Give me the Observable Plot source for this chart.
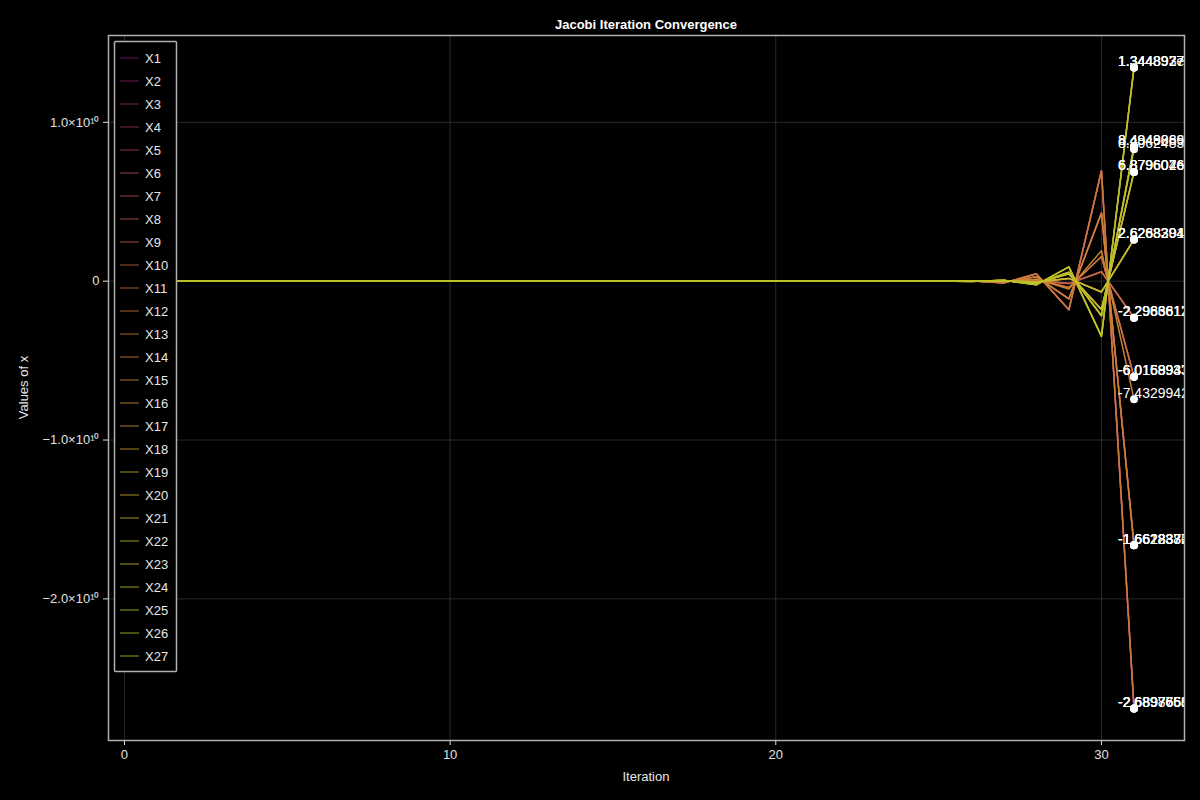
<!DOCTYPE html>
<html>
<head>
<meta charset="utf-8">
<script src="https://cdn.jsdelivr.net/npm/d3@7"></script>
<script src="https://cdn.jsdelivr.net/npm/@observablehq/plot@0.6"></script>
<style>
  html, body { margin: 0; padding: 0; background: #000; }
  #wrap { position: relative; width: 1200px; height: 800px; background: #000; overflow: hidden;
          font-family: "Liberation Sans", Arial, Helvetica, sans-serif; }
  #wrap > svg { position: absolute; left: 0; top: 0; }
  .lbl { position: absolute; color: #e6e6e6; font-size: 13px; white-space: nowrap; }
  #title { position: absolute; top: 17px; left: 108px; width: 1076px; text-align: center;
           color: #fff; font-weight: bold; font-size: 13px; }
</style>
</head>
<body>
<div id="wrap">
  <div id="title">Jacobi Iteration Convergence</div>
  <div class="lbl" id="xlab" style="left:108px;width:1076px;top:769px;text-align:center;">Iteration</div>
  <div class="lbl" id="ylab" style="left:-27px;top:380px;width:100px;text-align:center;transform:rotate(-90deg);">Values of x</div>
</div>
<script>
// ---------- data ----------
const iterations = [0,1,2,3,4,5,6,7,8,9,10,11,12,13,14,15,16,17,18,19,20,21,22,23,24,25,26,27,28,29,30,31];
const seriesNames = ["X1","X2","X3","X4","X5","X6","X7","X8","X9","X10","X11","X12","X13","X14","X15","X16","X17","X18","X19","X20","X21","X22","X23","X24","X25","X26","X27"];

const x1  = [0,0.30,0.45,0.51,0.48,0.62,0.59,0.70,0.67,0.78,0.53,0.93,-0.37,1.20,2.75,-10.6,41.1,-159.2,615.9,-2383,9224,-3.570e4,1.3815e5,-5.346e5,2.069e6,-8.007e6,3.0986e7,-1.1992e8,4.6407e8,-1.7960e9,6.9504e9,-2.6897651e10];
const x2  = [0,0.21,0.36,0.40,0.38,0.49,0.44,0.56,0.52,0.61,0.45,0.70,-0.28,0.96,1.70,-6.57,25.4,-98.4,380.7,-1473,5702,-2.2067e4,8.540e4,-3.305e5,1.2791e6,-4.950e6,1.9156e7,-7.413e7,2.8689e8,-1.1103e9,4.2968e9,-1.6628372e10];
const x3  = [0,0.16,0.23,0.30,0.26,0.36,0.31,0.40,0.35,0.44,0.30,0.51,-0.18,0.36,0.61,-2.38,9.2,-35.6,137.8,-533.2,2063,-7985,3.0903e4,-1.1959e5,4.628e5,-1.7911e6,6.931e6,-2.6825e7,1.0381e8,-4.0175e8,1.5548e9,-6.0169933e9];
const x4  = [0,0.11,0.20,0.21,0.22,0.25,0.25,0.28,0.28,0.30,0.24,0.35,-0.15,0.17,0.23,-0.91,3.5,-13.6,52.6,-203.5,787.5,-3048,1.1794e4,-4.564e4,1.7664e5,-6.836e5,2.6454e6,-1.0238e7,3.962e7,-1.5333e8,5.934e8,-2.2963612e9];
const x5  = [0,0.32,0.43,0.53,0.46,0.64,0.57,0.72,0.65,0.80,0.51,0.95,-0.39,1.22,2.75,-10.6,41.1,-159.2,615.9,-2383,9224,-3.570e4,1.3815e5,-5.346e5,2.069e6,-8.007e6,3.0986e7,-1.1992e8,4.6407e8,-1.7960e9,6.9504e9,-2.6897660e10];
const x6  = [0,0.23,0.34,0.42,0.40,0.47,0.46,0.58,0.50,0.63,0.43,0.72,-0.30,0.94,1.70,-6.56,25.4,-98.3,380.2,-1471,5696,-2.2046e4,8.532e4,-3.302e5,1.2779e6,-4.946e6,1.9138e7,-7.406e7,2.8663e8,-1.1092e9,4.2927e9,-1.6612837e10];
const x7  = [0,0.14,0.25,0.28,0.28,0.34,0.33,0.38,0.37,0.42,0.32,0.49,-0.20,0.34,0.61,-2.38,9.2,-35.6,137.7,-532.7,2061,-7978,3.0874e4,-1.1949e5,4.624e5,-1.7894e6,6.925e6,-2.6800e7,1.0372e8,-4.0168e8,1.5545e9,-6.0158937e9];
const x8  = [0,0.13,0.18,0.23,0.20,0.27,0.23,0.30,0.26,0.32,0.22,0.37,-0.13,0.19,0.24,-0.91,3.5,-13.6,52.6,-203.6,788.3,-3051,1.1806e4,-4.569e4,1.7682e5,-6.843e5,2.6480e6,-1.0248e7,3.966e7,-1.5348e8,5.940e8,-2.2986812e9];
const x9  = [0,0.29,0.46,0.50,0.49,0.61,0.60,0.69,0.68,0.77,0.54,0.92,-0.36,1.19,2.75,-10.6,41.1,-159.2,616.0,-2383,9224,-3.570e4,1.3816e5,-5.347e5,2.069e6,-8.007e6,3.0987e7,-1.1993e8,4.6410e8,-1.7961e9,6.9507e9,-2.6898765e10];
const x10 = [0,0.20,0.37,0.39,0.37,0.50,0.43,0.55,0.53,0.60,0.46,0.69,-0.27,0.97,1.70,-6.57,25.4,-98.4,380.7,-1473,5702,-2.2067e4,8.540e4,-3.305e5,1.2791e6,-4.950e6,1.9156e7,-7.413e7,2.8689e8,-1.1103e9,4.2968e9,-1.6628380e10];
const x11 = [0,0.12,0.19,0.22,0.21,0.26,0.24,0.29,0.27,0.31,0.23,0.36,-0.14,0.18,0.23,-0.91,3.5,-13.6,52.6,-203.5,787.5,-3048,1.1794e4,-4.564e4,1.7664e5,-6.836e5,2.6454e6,-1.0238e7,3.962e7,-1.5333e8,5.934e8,-2.2963617e9];
const x12 = [0,0.15,0.24,0.29,0.27,0.35,0.32,0.39,0.36,0.43,0.31,0.50,-0.19,0.35,0.61,-2.38,9.2,-35.6,137.8,-533.2,2063,-7985,3.0903e4,-1.1959e5,4.628e5,-1.7911e6,6.931e6,-2.6825e7,1.0381e8,-4.0175e8,1.5548e9,-6.0168943e9];
const x13 = [0,0.31,0.44,0.52,0.47,0.63,0.58,0.71,0.66,0.79,0.52,0.94,-0.38,1.21,2.75,-10.6,41.1,-159.2,615.9,-2383,9224,-3.570e4,1.3815e5,-5.346e5,2.069e6,-8.007e6,3.0986e7,-1.1992e8,4.6407e8,-1.7960e9,6.9504e9,-2.6897658e10];
const x14 = [0,0.22,0.35,0.41,0.39,0.48,0.45,0.57,0.51,0.62,0.44,0.71,-0.29,0.95,1.70,-6.57,25.4,-98.4,380.7,-1473,5702,-2.2067e4,8.540e4,-3.305e5,1.2791e6,-4.950e6,1.9156e7,-7.413e7,2.8689e8,-1.1103e9,4.2968e9,-1.6628377e10];
const x15 = [0,0.18,0.27,0.33,0.30,0.39,0.36,0.44,0.40,0.49,0.35,0.56,-0.22,0.41,0.76,-2.94,11.4,-44.0,170.2,-658.6,2549,-9864,3.8176e4,-1.4774e5,5.717e5,-2.2127e6,8.563e6,-3.3138e7,1.2824e8,-4.9630e8,1.9207e9,-7.4329942e9];
const x16 = [0,0.10,0.13,0.18,0.15,0.21,0.17,0.23,0.20,0.25,0.16,0.29,-0.10,-0.15,-0.27,1.04,-4.0,15.5,-60.1,232.8,-900.7,3486,-1.3490e4,5.221e4,-2.0205e5,7.819e5,-3.0259e6,1.1710e7,-4.532e7,1.7539e8,-6.788e8,2.6268201e9];
const x17 = [0,0.18,0.25,0.32,0.28,0.38,0.33,0.42,0.37,0.47,0.30,0.55,-0.20,-0.37,-0.70,2.72,-10.5,40.7,-157.5,609.6,-2359,9130,-3.5334e4,1.3674e5,-5.292e5,2.0479e6,-7.925e6,3.0671e7,-1.1869e8,4.5935e8,-1.7777e9,6.8796040e9];
const x18 = [0,0.27,0.41,0.46,0.45,0.56,0.54,0.63,0.61,0.71,0.49,0.84,-0.35,-0.61,-1.37,5.31,-20.6,79.6,-307.9,1191.7,-4612,1.7848e4,-6.907e4,2.6731e5,-1.0345e6,4.0035e6,-1.5493e7,5.996e7,-2.3203e8,8.980e8,-3.4752e9,1.3448930e10];
const x19 = [0,0.22,0.30,0.37,0.33,0.45,0.40,0.50,0.45,0.56,0.36,0.66,-0.25,-0.46,-0.87,3.36,-13.0,50.3,-194.5,752.7,-2913,1.1274e4,-4.363e4,1.6884e5,-6.534e5,2.5288e6,-9.786e6,3.7873e7,-1.4656e8,5.672e8,-2.1951e9,8.4949086e9];
const x20 = [0,0.08,0.15,0.16,0.17,0.19,0.19,0.21,0.22,0.23,0.18,0.27,-0.12,-0.13,-0.27,1.04,-4.0,15.5,-60.2,233.0,-901.3,3488,-1.3499e4,5.224e4,-2.0218e5,7.824e5,-3.0278e6,1.1718e7,-4.535e7,1.7550e8,-6.792e8,2.6283394e9];
const x21 = [0,0.16,0.27,0.30,0.30,0.36,0.35,0.40,0.39,0.45,0.32,0.53,-0.22,-0.35,-0.70,2.72,-10.5,40.7,-157.5,609.6,-2359,9130,-3.5334e4,1.3674e5,-5.292e5,2.0479e6,-7.925e6,3.0671e7,-1.1869e8,4.5935e8,-1.7777e9,6.8796076e9];
const x22 = [0,0.29,0.39,0.48,0.43,0.58,0.52,0.65,0.59,0.73,0.47,0.86,-0.33,-0.63,-1.37,5.31,-20.6,79.6,-307.9,1191.7,-4612,1.7848e4,-6.907e4,2.6731e5,-1.0345e6,4.0035e6,-1.5493e7,5.996e7,-2.3203e8,8.980e8,-3.4752e9,1.3448977e10];
const x23 = [0,0.09,0.14,0.17,0.16,0.20,0.18,0.22,0.21,0.24,0.17,0.28,-0.11,-0.14,-0.27,1.04,-4.0,15.5,-60.1,232.8,-900.8,3486,-1.3491e4,5.221e4,-2.0206e5,7.820e5,-3.0261e6,1.1711e7,-4.532e7,1.7540e8,-6.788e8,2.6268394e9];
const x24 = [0,0.17,0.26,0.31,0.29,0.37,0.34,0.41,0.38,0.46,0.31,0.54,-0.21,-0.36,-0.70,2.72,-10.5,40.7,-157.5,609.6,-2359,9130,-3.5334e4,1.3674e5,-5.292e5,2.0479e6,-7.925e6,3.0671e7,-1.1869e8,4.5935e8,-1.7777e9,6.8796026e9];
const x25 = [0,0.20,0.31,0.35,0.34,0.43,0.41,0.48,0.46,0.54,0.37,0.64,-0.26,-0.44,-0.85,3.28,-12.7,49.1,-190.2,736.0,-2848,1.1023e4,-4.266e4,1.651e5,-6.389e5,2.4726e6,-9.569e6,3.7031e7,-1.4331e8,5.546e8,-2.1463e9,8.3062483e9];
const x26 = [0,0.21,0.31,0.36,0.34,0.44,0.41,0.49,0.46,0.55,0.37,0.65,-0.26,-0.45,-0.87,3.36,-13.0,50.3,-194.5,752.7,-2913,1.1274e4,-4.363e4,1.6884e5,-6.534e5,2.5287e6,-9.786e6,3.7872e7,-1.4656e8,5.672e8,-2.1951e9,8.4948869e9];
const x27 = [0,0.28,0.40,0.47,0.44,0.57,0.53,0.64,0.60,0.72,0.48,0.85,-0.34,-0.62,-1.37,5.31,-20.6,79.6,-307.9,1191.7,-4612,1.7848e4,-6.907e4,2.6731e5,-1.0345e6,4.0035e6,-1.5493e7,5.996e7,-2.3203e8,8.980e8,-3.4752e9,1.3448927e10];

const seriesValues = [x1,x2,x3,x4,x5,x6,x7,x8,x9,x10,x11,x12,x13,x14,x15,x16,x17,x18,x19,x20,x21,x22,x23,x24,x25,x26,x27];

const xTicks = [0, 10, 20, 30];
const yTicks = [-2e10, -1e10, 0, 1e10];
const yTickLabels = ["\u22122.0\u00d710\u00b9\u2070", "\u22121.0\u00d710\u00b9\u2070", "0", "1.0\u00d710\u00b9\u2070"];

// ---------- build ----------
const colorStops = d3.piecewise(d3.interpolateRgb, ["#78146e", "#b04a5a", "#c8703a", "#cd9632", "#c8b92d", "#b9c328"]);
const colors = seriesNames.map((_, i) => colorStops(i / (seriesNames.length - 1)));

const rows = [];
seriesNames.forEach((name, s) => {
  iterations.forEach((it, k) => rows.push({series: name, iter: it, value: seriesValues[s][k]}));
});
const lastIdx = iterations.length - 1;
const finals = seriesNames.map((name, s) => {
  const v = seriesValues[s][lastIdx];
  return {series: name, iter: iterations[lastIdx], value: v, label: v.toExponential().replace("e+", "e")};
});

const chart = Plot.plot({
  width: 1200,
  height: 800,
  marginLeft: 108,
  marginRight: 16,
  marginTop: 35,
  marginBottom: 60,
  style: {background: "transparent", color: "#e0e0e0", fontFamily: "Liberation Sans, Arial, sans-serif", fontSize: "13px"},
  x: {domain: [-0.49, 32.55], ticks: xTicks, tickSize: 5, tickPadding: 4, label: null},
  y: {domain: [-2.8915e10, 1.5466e10], ticks: yTicks, tickSize: 5, tickPadding: 4, label: null,
      tickFormat: d => yTickLabels[yTicks.indexOf(d)]},
  color: {domain: seriesNames, range: colors},
  marks: [
    Plot.ruleX(xTicks, {stroke: "#fff", strokeOpacity: 0.16}),
    Plot.ruleY(yTicks, {stroke: "#fff", strokeOpacity: 0.16}),
    Plot.line(rows, {x: "iter", y: "value", z: "series", stroke: "series", strokeWidth: 1.5, strokeOpacity: 0.95, clip: true}),
    Plot.dot(finals, {x: "iter", y: "value", r: 4, fill: "#fff", stroke: null}),
    Plot.text(finals, {x: "iter", y: "value", text: "label", textAnchor: "start", dx: -16, dy: -6,
                       fill: "#fff", fontSize: 14, clip: true}),
    Plot.frame({stroke: "#b0b0b0", strokeWidth: 1.5})
  ]
});
const wrap = document.getElementById("wrap");
wrap.insertBefore(chart, wrap.firstChild);

// ---------- legend (overlay, top-left inside the plot) ----------
const lg = d3.select(wrap).append("svg")
  .attr("width", 1200).attr("height", 800)
  .style("position", "absolute").style("left", "0px").style("top", "0px");
const rowH = 23, top0 = 58;
lg.append("rect")
  .attr("x", 114.5).attr("y", 41.5).attr("width", 62).attr("height", 630)
  .attr("fill", "#000").attr("stroke", "#b0b0b0").attr("stroke-width", 1.5).attr("rx", 1);
const items = lg.selectAll("g.item").data(seriesNames).join("g")
  .attr("transform", (d, i) => `translate(0,${top0 + i * rowH})`);
items.append("line")
  .attr("x1", 120).attr("x2", 139).attr("y1", 0).attr("y2", 0)
  .attr("stroke", (d, i) => colors[i]).attr("stroke-width", 1.5).attr("stroke-opacity", 0.55);
items.append("text")
  .attr("x", 145).attr("y", 0).attr("dy", "0.35em")
  .attr("fill", "#e6e6e6").attr("font-size", 13)
  .attr("font-family", "Liberation Sans, Arial, sans-serif")
  .text(d => d);
</script>
</body>
</html>
